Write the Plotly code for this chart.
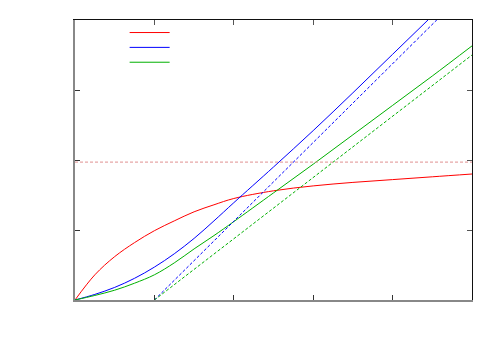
import plotly.graph_objects as go

# sample points (x in 0..5, y in 0..4)
x_vals = [0, 0.25, 0.5, 0.75, 1, 1.25, 1.5, 1.75, 2, 2.5, 3, 3.5, 4, 4.5, 5]
red_curve = [0, 0.36, 0.62, 0.82, 0.99, 1.13, 1.26, 1.36, 1.45, 1.56, 1.63, 1.68, 1.72, 1.76, 1.80]
blue_curve = [0, 0.08, 0.18, 0.31, 0.47, 0.66, 0.88, 1.13, 1.39, 1.90, 2.42, 2.96, 3.51, 4.06, 4.61]
green_curve = [0, 0.065, 0.14, 0.24, 0.36, 0.53, 0.73, 0.92, 1.12, 1.53, 1.94, 2.36, 2.78, 3.20, 3.63]

# asymptotes
red_asym_x = [0, 5]
red_asym_y = [1.97, 1.97]
lin_asym_x = [1, 5]
blue_asym_y = [0, 4.50]
green_asym_y = [0, 3.50]

RED = "#ff0000"
BLUE = "#0000ff"
GREEN = "#00b000"

fig = go.Figure()

fig.add_trace(go.Scatter(x=x_vals, y=red_curve, mode="lines", name=" ", legend="legend",
                         line=dict(color=RED, width=1, shape="spline")))
fig.add_trace(go.Scatter(x=x_vals, y=blue_curve, mode="lines", name=" ", legend="legend2",
                         line=dict(color=BLUE, width=1, shape="spline")))
fig.add_trace(go.Scatter(x=x_vals, y=green_curve, mode="lines", name=" ", legend="legend3",
                         line=dict(color=GREEN, width=1, shape="spline")))

fig.add_trace(go.Scatter(x=lin_asym_x, y=blue_asym_y, mode="lines", showlegend=False,
                         line=dict(color=BLUE, width=1, dash="3px,2px")))
fig.add_trace(go.Scatter(x=lin_asym_x, y=green_asym_y, mode="lines", showlegend=False,
                         line=dict(color=GREEN, width=1, dash="3px,2px")))
# horizontal asymptote drawn on the mirrored (top/right) axes
fig.add_trace(go.Scatter(x=red_asym_x, y=red_asym_y, mode="lines", showlegend=False,
                         xaxis="x2", yaxis="y2",
                         line=dict(color="#e09090", width=1, dash="3px,2px")))

common = dict(showgrid=False, zeroline=False, showticklabels=False,
              ticks="inside", ticklen=5, tickwidth=1)

leg = dict(xanchor="left", yanchor="top", bgcolor="rgba(0,0,0,0)",
           font=dict(size=9), itemwidth=40)

# page has an 8px body margin, so the figure is 8px smaller than the window
fig.update_layout(
    width=492, height=342,
    margin=dict(l=67, r=28, t=10, b=50),
    paper_bgcolor="white", plot_bgcolor="white",
    font=dict(family="DejaVu Sans", size=10),
    xaxis=dict(range=[0, 5], dtick=1, showline=True, linecolor="#888888",
               linewidth=2, tickcolor="#333333", **common),
    yaxis=dict(range=[0, 4], dtick=1, showline=True, linecolor="#888888",
               linewidth=2, tickcolor="#333333", **common),
    xaxis2=dict(overlaying="x", side="top", matches="x", range=[0, 5], dtick=1,
                showline=True, linecolor="#111111", linewidth=1,
                tickcolor="#555555", **common),
    yaxis2=dict(overlaying="y", side="right", matches="y", range=[0, 4], dtick=1,
                showline=True, linecolor="#111111", linewidth=1,
                tickcolor="#555555", **common),
    showlegend=True,
    legend=dict(x=0.125, y=1.007, **leg),
    legend2=dict(x=0.125, y=0.954, **leg),
    legend3=dict(x=0.125, y=0.901, **leg),
)

fig.write_html("out.html")
